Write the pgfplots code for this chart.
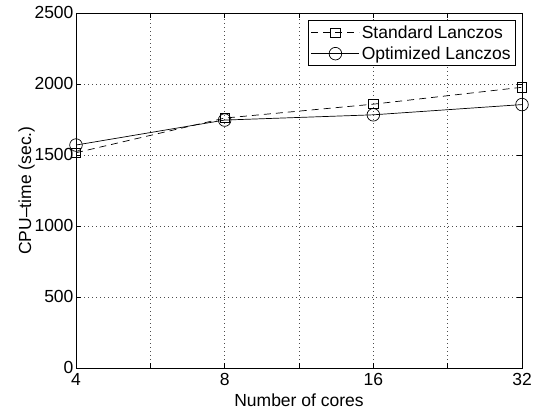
\documentclass[border=0pt]{standalone}
\usepackage{fontspec}
\setmainfont{Liberation Sans}
\usepackage{pgfplots}
\pgfplotsset{compat=1.18}
\begin{document}
\begin{tikzpicture}[font=\fontsize{17.5}{20}\selectfont]
\useasboundingbox (-76pt,-41pt) rectangle (459pt,368pt);
\begin{axis}[
  at={(0pt,0pt)}, anchor=south west,
  scale only axis, width=446pt, height=355pt,
  xmin=2, xmax=5, ymin=0, ymax=2500,
  xtick={2,2.5,3,3.5,4,4.5,5},
  xticklabels={4,,8,,16,,32},
  ytick={0,500,1000,1500,2000,2500},
  /pgf/number format/assume math mode=true,
  /pgf/number format/1000 sep={},
  grid=major,
  major grid style={black!70, line width=0.5pt, dash pattern=on 0.6pt off 3.4pt},
  tick align=inside,
  major tick length=5pt,
  tick style={black, line width=0.6pt},
  axis line style={black, line width=0.9pt},
  xlabel={Number of cores},
  ylabel={CPU--time (sec.)},
  xlabel style={yshift=-1pt},
  ylabel style={yshift=-7pt},
  xticklabel style={yshift=-2pt},
  yticklabel style={xshift=1pt, yshift=1pt},
  legend style={at={(1,1)}, xshift=-6pt, yshift=-7pt, anchor=north east, draw=black, line width=0.8pt,
    font=\fontsize{17.5}{20}\selectfont, inner xsep=3pt, inner ysep=3pt, row sep=3pt},
  legend cell align=left,
  legend image code/.code={\draw[mark repeat=2,mark phase=2,#1] plot coordinates {(0pt,0pt)(24pt,0pt)(48pt,0pt)};},
]
\addplot[black, line width=0.7pt, dash pattern=on 7pt off 5pt, mark=square, mark size=4.6pt, mark options={solid, line width=0.7pt}]
  coordinates {(2,1516) (3,1760) (4,1858) (5,1977)};
\addlegendentry{Standard Lanczos}
\addplot[black, line width=0.7pt, mark=o, mark size=6.3pt, mark options={solid, line width=0.7pt}]
  coordinates {(2,1570) (3,1746) (4,1783) (5,1855)};
\addlegendentry{Optimized Lanczos}
\end{axis}
\end{tikzpicture}
\end{document}
